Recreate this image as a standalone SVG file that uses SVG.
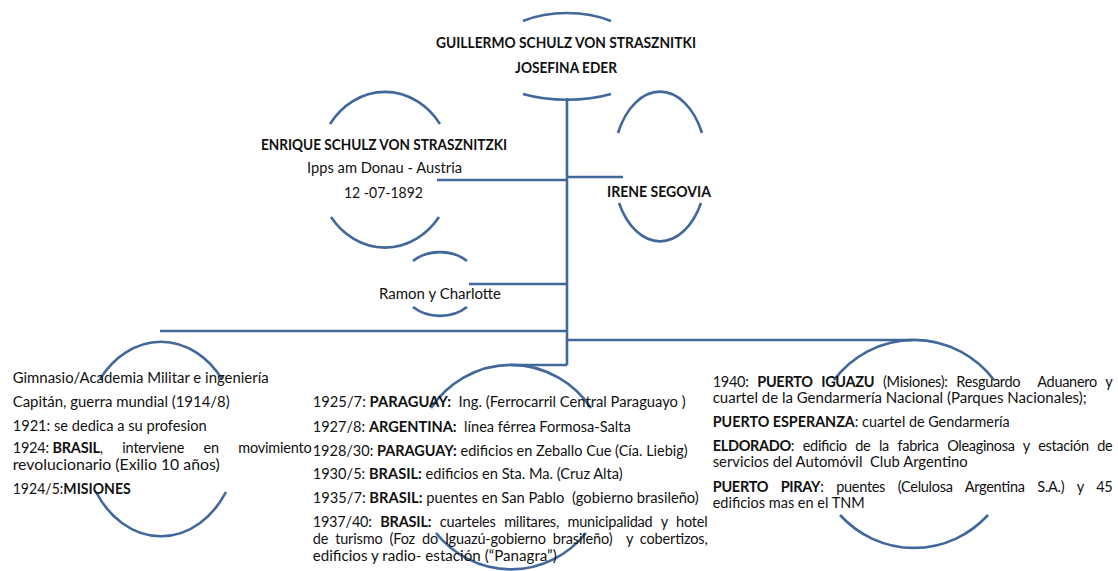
<svg xmlns="http://www.w3.org/2000/svg" width="1118" height="571" viewBox="0 0 1118 571">
<style>
.arc{fill:none;stroke:#41689b;stroke-width:2.6}
.ln{fill:none;stroke:#41689b;stroke-width:2.6}
text{font-family:Lato,"Open Sans","Liberation Sans",sans-serif;font-size:14.5px;fill:#111;white-space:pre}
.b{font-weight:bold}
.c{text-anchor:middle}
</style>
<rect width="1118" height="571" fill="#fff"/>
<g id="connectors">
<path class="ln" d="M567,98 V365"/>
<path class="ln" d="M437,180 H567"/>
<path class="ln" d="M567,177 H623"/>
<path class="ln" d="M469,284 H567"/>
<path class="ln" d="M160,331 H567"/>
<path class="ln" d="M567,340 H913"/>
<path class="ln" d="M510,365 H567"/>
</g>
<g id="node-guillermo">
<path class="arc" d="M523,21 A75,42 0 0 1 611,21"/>
<path class="arc" d="M523,94 A75,30 0 0 0 611,94"/>
<text class="b c" x="566" y="48" textLength="260" lengthAdjust="spacingAndGlyphs">GUILLERMO SCHULZ VON STRASZNITKI</text>
<text class="b c" x="566" y="73" textLength="102" lengthAdjust="spacingAndGlyphs">JOSEFINA EDER</text>
</g>
<g id="node-enrique">
<path class="arc" d="M330,124 A68,78 0 0 1 440,124"/>
<path class="arc" d="M331,217 A68,78 0 0 0 439,217"/>
<text class="b c" x="384" y="150" textLength="246" lengthAdjust="spacingAndGlyphs">ENRIQUE SCHULZ VON STRASZNITZKI</text>
<text class="c" x="384.5" y="173" textLength="155" lengthAdjust="spacingAndGlyphs">Ipps am Donau - Austria</text>
<text class="c" x="383.5" y="198" textLength="79" lengthAdjust="spacingAndGlyphs">12 -07-1892</text>
</g>
<g id="node-irene">
<path class="arc" d="M618,133 A47,75 0 0 1 702,133"/>
<path class="arc" d="M619,203 A47,75 0 0 0 701,203"/>
<text class="b c" x="659" y="197" textLength="104" lengthAdjust="spacingAndGlyphs">IRENE SEGOVIA</text>
</g>
<g id="node-ramon">
<path class="arc" d="M413,261 A39,32 0 0 1 467,261"/>
<path class="arc" d="M413,307 A39,32 0 0 0 467,307"/>
<text class="c" x="440" y="299" textLength="122" lengthAdjust="spacingAndGlyphs">Ramon y Charlotte</text>
</g>
<g id="node-left">
<path class="arc" d="M100,379 A78,99 0 0 1 222,379"/>
<path class="arc" d="M96,492 A78,99 0 0 0 226,492"/>
<text x="12.7" y="383" textLength="256" lengthAdjust="spacingAndGlyphs">Gimnasio/Academia Militar e ingeniería</text>
<text x="12.7" y="407" textLength="217" lengthAdjust="spacingAndGlyphs">Capitán, guerra mundial (1914/8)</text>
<text x="12.7" y="431" textLength="194" lengthAdjust="spacingAndGlyphs">1921: se dedica a su profesion</text>
<text x="12.7" y="453" textLength="299" lengthAdjust="spacing">1924: <tspan style="word-spacing:16px"><tspan class="b">BRASIL</tspan>, interviene en movimiento</tspan></text>
<text x="12.7" y="470" textLength="207" lengthAdjust="spacingAndGlyphs">revolucionario (Exilio 10 años)</text>
<text x="12.7" y="494" textLength="118" lengthAdjust="spacingAndGlyphs">1924/5:<tspan class="b">MISIONES</tspan></text>
</g>
<g id="node-middle">
<path class="arc" d="M431,408 A98,102 0 0 1 591,408"/>
<path class="arc" d="M436,533 A98,102 0 0 0 586,533"/>
<text x="312.7" y="407" textLength="373" lengthAdjust="spacingAndGlyphs">1925/7: <tspan class="b">PARAGUAY:</tspan>  Ing. (Ferrocarril Central Paraguayo )</text>
<text x="312.7" y="432" textLength="318" lengthAdjust="spacingAndGlyphs">1927/8: <tspan class="b">ARGENTINA:</tspan>  línea férrea Formosa-Salta</text>
<text x="312.7" y="456" textLength="375" lengthAdjust="spacingAndGlyphs">1928/30: <tspan class="b">PARAGUAY:</tspan> edificios en Zeballo Cue (Cía. Liebig)</text>
<text x="312.7" y="479" textLength="310" lengthAdjust="spacingAndGlyphs">1930/5: <tspan class="b">BRASIL:</tspan> edificios en Sta. Ma. (Cruz Alta)</text>
<text x="312.7" y="503" textLength="386" lengthAdjust="spacingAndGlyphs">1935/7: <tspan class="b">BRASIL:</tspan> puentes en San Pablo  (gobierno brasileño)</text>
<text x="312.7" y="527" textLength="395" lengthAdjust="spacing" style="word-spacing:5px">1937/40: <tspan class="b">BRASIL:</tspan> cuarteles militares, municipalidad y hotel</text>
<text x="312.7" y="544" textLength="395" lengthAdjust="spacing" style="word-spacing:3.4px">de turismo (Foz do Iguazú-gobierno brasileño)  y cobertizos,</text>
<text x="312.7" y="561" textLength="244" lengthAdjust="spacingAndGlyphs">edificios y radio- estación (“Panagra”)</text>
</g>
<g id="node-right">
<path class="arc" d="M834,380 A101,103 0 0 1 994,380"/>
<path class="arc" d="M840,515 A101,103 0 0 0 988,515"/>
<text x="712.7" y="387" textLength="400" lengthAdjust="spacing" style="word-spacing:5.3px">1940: <tspan class="b">PUERTO IGUAZU</tspan> (Misiones): Resguardo  Aduanero y</text>
<text x="712.7" y="403" textLength="374" lengthAdjust="spacingAndGlyphs">cuartel de la Gendarmería Nacional (Parques Nacionales);</text>
<text x="712.7" y="427" textLength="297" lengthAdjust="spacingAndGlyphs"><tspan class="b">PUERTO ESPERANZA</tspan>: cuartel de Gendarmería</text>
<text x="712.7" y="451" textLength="400" lengthAdjust="spacing" style="word-spacing:5.2px"><tspan class="b">ELDORADO</tspan>: edificio de la fabrica Oleaginosa y estación de</text>
<text x="712.7" y="467" textLength="255" lengthAdjust="spacingAndGlyphs">servicios del Automóvil  Club Argentino</text>
<text x="712.7" y="492" textLength="400" lengthAdjust="spacing" style="word-spacing:9.3px"><tspan class="b">PUERTO PIRAY</tspan>: puentes (Celulosa Argentina S.A.) y 45</text>
<text x="712.7" y="508" textLength="152" lengthAdjust="spacingAndGlyphs">edificios mas en el TNM</text>
</g>
</svg>
